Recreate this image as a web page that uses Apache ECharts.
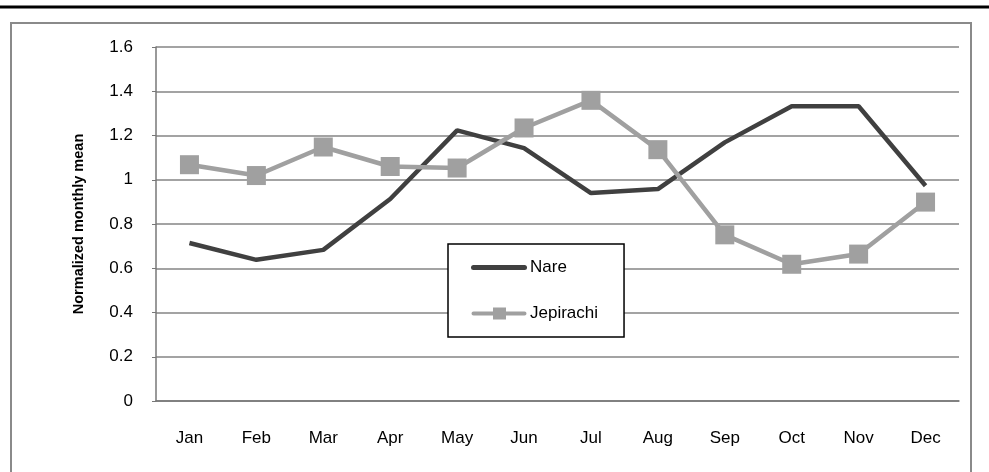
<!DOCTYPE html>
<html style="height: 100%">
   <head>
       <meta charset="utf-8">
   </head>
   <body style="height: 100%; margin: 0; background: #fff">
       <div id="container" style="width: 989px; height: 472px"></div>
       <script type="text/javascript" src="https://cdn.jsdelivr.net/npm/echarts@6/dist/echarts.min.js"></script>
       <script type="text/javascript">
// data
var months = ['Jan','Feb','Mar','Apr','May','Jun','Jul','Aug','Sep','Oct','Nov','Dec'];
var nare = [0.714, 0.638, 0.683, 0.913, 1.223, 1.143, 0.94, 0.958, 1.169, 1.332, 1.332, 0.973];
var jepirachi = [1.068, 1.019, 1.148, 1.06, 1.053, 1.234, 1.359, 1.136, 0.751, 0.618, 0.664, 0.899];
var yTicks = [0, 0.2, 0.4, 0.6, 0.8, 1, 1.2, 1.4, 1.6];

var font = '"Liberation Sans", Arial, sans-serif';

// legend icons: thick rounded bar, and bar with a small square
var iconNare = 'path://M0,0 M56,13 M2.5,4 L53.5,4 A2.5,2.5 0 0 1 53.5,9 L2.5,9 A2.5,2.5 0 0 1 2.5,4 Z';
var iconJep = 'path://M0,0 M56,13 M2.5,4.5 L53.5,4.5 A2,2 0 0 1 53.5,8.5 L2.5,8.5 A2,2 0 0 1 2.5,4.5 Z M22,0.5 L35,0.5 L35,12.5 L22,12.5 Z';

var dom = document.getElementById("container");
var myChart = echarts.init(dom);

var option = {
    animation: false,
    backgroundColor: '#fff',
    textStyle: { fontFamily: font },
    graphic: [
        { type: 'line', shape: { x1: 0, y1: 7, x2: 989, y2: 7 }, style: { stroke: '#000', lineWidth: 3 } },
        { type: 'rect', shape: { x: 11, y: 23, width: 960, height: 470 }, style: { fill: 'none', stroke: '#8a8a8a', lineWidth: 2 } }
    ],
    grid: { left: 156, right: 30, top: 47, bottom: 71 },
    legend: {
        orient: 'vertical',
        left: 448,
        top: 244,
        data: [
            { name: 'Nare', icon: iconNare },
            { name: 'Jepirachi', icon: iconJep }
        ],
        itemWidth: 56,
        itemHeight: 13,
        itemGap: 29,
        padding: [15, 26, 15, 23],
        borderColor: '#000',
        borderWidth: 1.5,
        backgroundColor: '#fff',
        textStyle: { fontFamily: font, fontSize: 17, color: '#000', padding: [0, 0, 0, -2] }
    },
    xAxis: {
        type: 'category',
        data: months,
        boundaryGap: true,
        axisLine: { lineStyle: { color: '#777', width: 1.5 } },
        axisTick: { show: false },
        axisLabel: { color: '#000', fontSize: 17, margin: 29, fontFamily: font }
    },
    yAxis: {
        type: 'value',
        min: 0,
        max: 1.6,
        interval: 0.2,
        name: 'Normalized monthly mean',
        nameLocation: 'middle',
        nameGap: 70,
        nameTextStyle: { fontWeight: 'bold', fontSize: 14.5, color: '#000', fontFamily: font },
        axisLine: { show: true, lineStyle: { color: '#777', width: 1.5 } },
        axisTick: { show: true, length: 4, lineStyle: { color: '#777' } },
        axisLabel: {
            color: '#000', fontSize: 17, margin: 23, fontFamily: font,
            formatter: function (v) {
                var t = yTicks.filter(function (x) { return Math.abs(x - v) < 1e-6; })[0];
                return t === undefined ? '' : String(t);
            }
        },
        splitLine: { lineStyle: { color: '#858585', width: 1.5 } }
    },
    series: [
        {
            name: 'Nare',
            type: 'line',
            data: nare,
            symbol: 'none',
            lineStyle: { color: '#404040', width: 4.5 },
            itemStyle: { color: '#404040' }
        },
        {
            name: 'Jepirachi',
            type: 'line',
            data: jepirachi,
            symbol: 'rect',
            symbolSize: 19,
            lineStyle: { color: '#a0a0a0', width: 4.5 },
            itemStyle: { color: '#a0a0a0' }
        }
    ]
};

myChart.setOption(option, true);
       </script>
   </body>
</html>
